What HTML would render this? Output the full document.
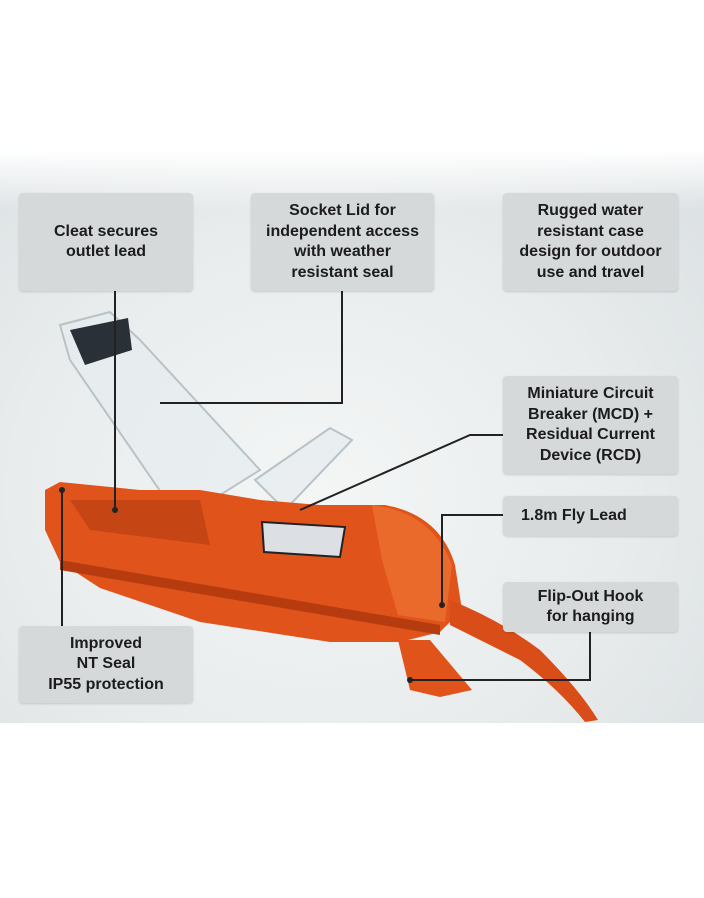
<!DOCTYPE html>
<html><head><style>
body{margin:0;width:704px;height:898px;background:#fff;position:relative;overflow:hidden;font-family:"Liberation Sans",sans-serif}
.bg{position:absolute;left:0;top:150px;width:704px;height:573px;background:radial-gradient(ellipse at 45% 60%,#f4f6f6 0%,#e8ecec 55%,#dadfe2 100%)}
.fade{position:absolute;left:0;top:150px;width:704px;height:60px;background:linear-gradient(#fff,rgba(255,255,255,0))}
.b{position:absolute;background:#d6d9da;border-radius:4px;color:#1c1c1c;font-weight:bold;font-size:16px;line-height:20.5px;text-align:center;display:flex;align-items:center;justify-content:center;box-shadow:0 1px 2px rgba(0,0,0,.15)}
svg{position:absolute;left:0;top:0}
</style></head><body>
<div class="bg"></div><div class="fade"></div>
<svg width="704" height="898">
<path d="M60 325 L110 312 L140 340 L260 470 L180 520 L70 360 Z" fill="rgba(230,235,238,.7)" stroke="#b9c2c6" stroke-width="2"/>
<path d="M70 330 L128 318 L132 350 L85 365 Z" fill="#2a3038"/>
<path d="M255 480 L330 428 L352 440 L285 510 Z" fill="rgba(230,235,238,.7)" stroke="#b9c2c6" stroke-width="2"/>
<path d="M45 490 L60 482 L140 490 L200 490 L260 500 L320 505 L385 505 Q440 515 455 565 L462 610 L440 632 L400 642 L330 642 L200 622 L100 588 L60 562 L45 530 Z" fill="#e0541c"/>
<path d="M70 500 L200 500 L210 545 L90 530 Z" fill="#c64515"/>
<path d="M262 522 L345 527 L340 557 L264 552 Z" fill="#dcdfe3" stroke="#222" stroke-width="2"/>
<path d="M372 505 Q432 512 452 565 L445 622 L398 615 L382 560 Z" fill="#ea6a2c"/>
<path d="M60 560 L440 625 L440 635 L60 570 Z" fill="#b63c10"/>
<path d="M398 640 L430 640 L472 690 L440 697 L410 690 Z" fill="#e0541c"/>
<path d="M450 600 Q500 620 540 650 Q580 690 598 720 L585 722 Q560 690 520 660 Q480 640 450 625 Z" fill="#d94e18"/>
<g stroke="#222" stroke-width="2" fill="none">
<path d="M115 291 V510"/>
<path d="M342 291 V403 H160"/>
<path d="M503 435 H470 L300 510"/>
<path d="M503 515 H442 V605"/>
<path d="M590 632 V680 H410"/>
<path d="M62 626 V490"/>
</g>
<g fill="#222"><circle cx="115" cy="510" r="3"/><circle cx="442" cy="605" r="3"/><circle cx="410" cy="680" r="3"/><circle cx="62" cy="490" r="3"/></g>
</svg>
<div class="b" style="left:19px;top:193px;width:174px;height:98px">Cleat secures<br>outlet lead</div>
<div class="b" style="left:251px;top:193px;width:183px;height:98px">Socket Lid for<br>independent access<br>with weather<br>resistant seal</div>
<div class="b" style="left:503px;top:193px;width:175px;height:98px">Rugged water<br>resistant case<br>design for outdoor<br>use and travel</div>
<div class="b" style="left:503px;top:376px;width:175px;height:98px">Miniature Circuit<br>Breaker (MCD) +<br>Residual Current<br>Device (RCD)</div>
<div class="b" style="left:503px;top:496px;width:175px;height:40px;justify-content:flex-start;padding-left:18px;box-sizing:border-box">1.8m Fly Lead</div>
<div class="b" style="left:503px;top:582px;width:175px;height:50px">Flip-Out Hook<br>for hanging</div>
<div class="b" style="left:19px;top:626px;width:174px;height:77px">Improved<br>NT Seal<br>IP55 protection</div>
</body></html>
